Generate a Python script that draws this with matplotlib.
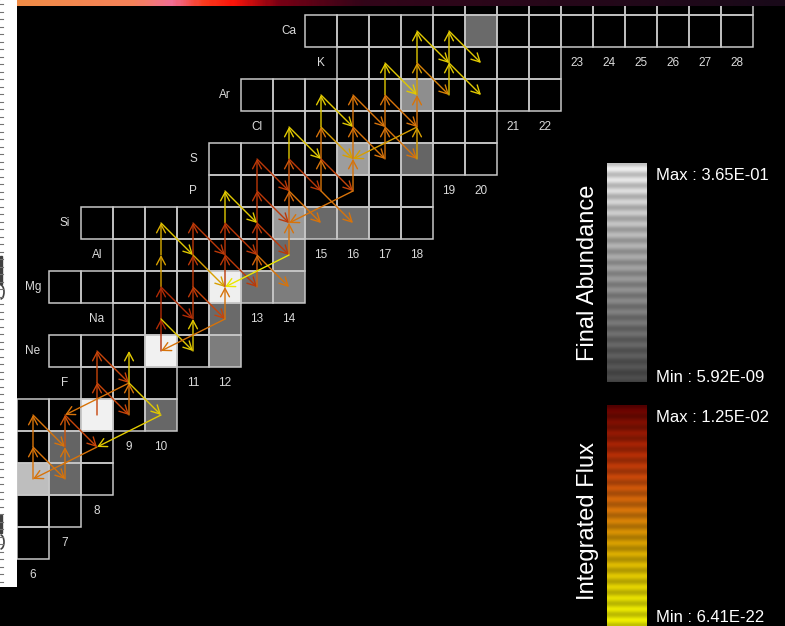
import numpy as np
import matplotlib
matplotlib.use("Agg")
import matplotlib.pyplot as plt
from matplotlib.patches import Rectangle, FancyArrowPatch, Arc
from matplotlib.colors import LinearSegmentedColormap, LogNorm

plt.rcParams['font.family'] = ['Liberation Sans', 'DejaVu Sans']

# ---- chart rows: proton number, symbol, neutron range present ----
elements = ['Be', 'B', 'C', 'N', 'O', 'F', 'Ne', 'Na', 'Mg', 'Al', 'Si', 'P',
            'S', 'Cl', 'Ar', 'K', 'Ca', 'Sc']
z_values = list(range(4, 22))
n_first = [6, 6, 6, 6, 6, 8, 7, 9, 7, 9, 8, 12, 12, 14, 13, 16, 15, 19]
n_last = [6, 7, 8, 8, 10, 10, 12, 12, 14, 14, 18, 18, 20, 20, 22, 22, 28, 28]

# ---- final abundances (mass fractions) ----
abund_nuclide = ['C12', 'C13', 'N14', 'O16', 'O18', 'Ne20', 'Ne22', 'Na23',
                 'Mg24', 'Mg25', 'Mg26', 'Al27', 'Si28', 'Si29', 'Si30',
                 'S32', 'S34', 'Ar36', 'Ca40']
abund_value = [1.4e-3, 1.2e-7, 9.0e-8, 3.0e-1, 1.2e-7, 3.0e-1, 1.3e-6, 1.6e-7,
               2.4e-1, 2.6e-7, 1.3e-6, 1.6e-7, 3.0e-5, 1.5e-7, 2.0e-7,
               4.0e-5, 1.0e-7, 8.0e-6, 1.8e-7]
abund_min, abund_max = 5.92e-9, 3.65e-1

# ---- integrated reaction flows (source -> product) ----
flow_src = ['C12', 'N13', 'N13', 'O14', 'C13', 'N14', 'O15', 'N15',
            'O16', 'F17', 'F17', 'Ne18', 'O17', 'F18', 'F18', 'F18', 'O18',
            'Ne20', 'Na21', 'Mg22', 'Al23', 'Na21', 'Mg22', 'Si24', 'Ne21',
            'Na22', 'Mg23', 'Al24', 'Mg23', 'Al24', 'Si25', 'Na23', 'Na23',
            'Mg24', 'Al25', 'Si26', 'Al25', 'Si26', 'Mg25', 'Al26', 'Si27',
            'P27', 'Al26', 'Si27', 'Al27', 'Al27', 'P28', 'P28', 'S29',
            'Si28', 'P29', 'S30', 'S30', 'Cl31', 'P29', 'P30', 'P30', 'S31',
            'Cl32', 'S31', 'P31', 'P31', 'Cl32', 'Ar33', 'S32', 'Cl33',
            'Ar34', 'Cl33', 'S33', 'Cl34', 'Ar35', 'K36', 'Ar35', 'Cl34',
            'Cl35', 'S34', 'Cl35', 'Ar36', 'K37', 'Ca38', 'K37', 'Ar37',
            'K38', 'Ca39', 'K38']
flow_dst = ['N13', 'O14', 'C13', 'N14', 'N14', 'O15', 'N15', 'C12',
            'F17', 'Ne18', 'O17', 'F18', 'F18', 'Ne19', 'O15', 'O18', 'N15',
            'Na21', 'Mg22', 'Al23', 'Si24', 'Ne21', 'Na22', 'Al24', 'Na22',
            'Mg23', 'Al24', 'Si25', 'Na23', 'Mg24', 'Al25', 'Ne20', 'Mg24',
            'Al25', 'Si26', 'P27', 'Mg25', 'Al26', 'Al26', 'Si27', 'P28',
            'Si27', 'Mg26', 'Al27', 'Si28', 'Mg24', 'Si28', 'S29', 'P29',
            'P29', 'S30', 'Cl31', 'P30', 'S31', 'Si29', 'S31', 'Si30', 'Cl32',
            'Ar33', 'P31', 'Si28', 'S32', 'S32', 'Cl33', 'Cl33', 'Ar34',
            'Cl34', 'S33', 'Cl34', 'Ar35', 'K36', 'Ar36', 'Cl35', 'S34',
            'S32', 'Cl35', 'Ar36', 'K37', 'Ca38', 'K38', 'Ar37', 'K38',
            'Ca39', 'K39', 'Ar38']
flow_value = [1e-11, 1e-11, 1e-11, 1e-11, 1e-11, 1e-9, 1e-8, 1e-11,
              1e-8, 1e-8, 1e-8, 1e-8, 1e-11, 1e-17, 1e-11, 1e-17, 1e-17,
              1e-6, 1e-6, 1e-14, 1e-15, 1e-17, 1e-6, 1e-17, 1e-17,
              1e-7, 1e-7, 1e-7, 1e-8, 1e-14, 1e-7, 1e-11, 1e-11,
              1e-7, 1e-7, 1e-17, 1e-7, 1e-7, 1e-10, 1e-7, 1e-7,
              1e-17, 1e-11, 1e-7, 1e-11, 2e-20, 1e-7, 1e-7, 1e-7,
              1e-10, 1e-9, 1e-17, 1e-7, 1e-17, 1e-11, 1e-11, 1e-11, 1e-11,
              1e-17, 1e-8, 1e-11, 1e-11, 1e-14, 1e-17, 1e-11, 1e-11,
              1e-11, 1e-11, 1e-11, 1e-11, 1e-17, 1e-17, 1e-11, 1e-11,
              1e-14, 1e-14, 1e-11, 1e-14, 1e-17, 1e-17, 1e-12, 1e-17,
              1e-17, 1e-17, 1e-17]
flux_min, flux_max = 6.41e-22, 1.25e-2

symbol_z = dict(zip(elements, z_values))


def nz(name):
    sym = ''.join(c for c in name if c.isalpha())
    a = int(''.join(c for c in name if c.isdigit()))
    z = symbol_z[sym]
    return a - z, z


# ---- colour scales ----
flux_stops = [(0.00, (240, 240, 0)), (0.10, (232, 228, 0)),
              (0.22, (225, 200, 0)), (0.37, (215, 160, 0)),
              (0.53, (215, 115, 10)), (0.68, (200, 70, 10)),
              (0.80, (175, 40, 5)), (1.00, (100, 0, 0))]
flux_cmap = LinearSegmentedColormap.from_list(
    'flux', [(p, tuple(v / 255 for v in c)) for p, c in flux_stops])
gray_cmap = LinearSegmentedColormap.from_list(
    'abund', [(0, (75 / 255,) * 3), (1, (242 / 255,) * 3)])
flux_norm = LogNorm(flux_min, flux_max)
abund_norm = LogNorm(abund_min, abund_max)

W, H = 785, 626
CELL = 32
fig = plt.figure(figsize=(W / 100, H / 100), dpi=100)
fig.patch.set_facecolor('black')


def frac_rect(x0, y0, w, h):
    return [x0 / W, 1 - (y0 + h) / H, w / W, h / H]


ax = fig.add_axes([0, 0, 1, 1])
ax.set_xlim(5.5 - 17 / CELL, 5.5 + (W - 17) / CELL)
ax.set_ylim(20.5 - (H - 15) / CELL, 20.5 + 15 / CELL)
ax.axis('off')

grid_col = (0.78, 0.78, 0.78)
label_col = (0.86, 0.86, 0.86)
abund = {nz(k): v for k, v in zip(abund_nuclide, abund_value)}

for z, sym, n0, n1 in zip(z_values, elements, n_first, n_last):
    for n in range(n0, n1 + 1):
        if (n, z) in abund:
            fc = gray_cmap(abund_norm(abund[(n, z)]))
        else:
            fc = 'black'
        ax.add_patch(Rectangle((n - 0.5, z - 0.5), 1, 1, facecolor=fc,
                               edgecolor='none', zorder=1))
        ax.add_patch(Rectangle((n - 0.5, z - 0.5), 1, 1, facecolor='none',
                               edgecolor=grid_col, lw=1.1, zorder=2))
    # symbol sits one column left of the row; rows whose label column lies
    # under the margin or above the top edge carry no label
    if n0 - 1 >= 6 and z <= 20:
        ax.text(n0 - 1, z, sym, color=label_col, fontsize=8.5,
                ha='center', va='center', zorder=3)

for n in range(6, 29):
    zb = min(z for z, a, b in zip(z_values, n_first, n_last) if a <= n <= b)
    ax.text(n, zb - 1, str(n), color=label_col, fontsize=8.5,
            ha='center', va='center', zorder=3)

for s, d, v in zip(flow_src, flow_dst, flow_value):
    p0, p1 = nz(s), nz(d)
    arr = FancyArrowPatch(p0, p1, arrowstyle='->,head_length=0.6,head_width=0.32',
                          mutation_scale=10, shrinkA=0, shrinkB=0, lw=1.0,
                          color=flux_cmap(flux_norm(v)), zorder=4)
    ax.add_patch(arr)


# ---- banded colour bars ----
def banded(cmap, rows, period):
    t = np.linspace(1, 0, rows)
    rgb = cmap(t)[:, :3]
    phase = (np.arange(rows) % period) / period
    shade = 0.80 + 0.20 * np.sin(np.pi * phase) ** 2
    img = np.clip(rgb * shade[:, None], 0, 1)
    return np.repeat(img[:, None, :], 4, axis=1)


cb1 = fig.add_axes(frac_rect(607, 163, 40, 219))
cb1.imshow(banded(gray_cmap, 219, 11), aspect='auto', interpolation='bilinear')
cb1.axis('off')
cb2 = fig.add_axes(frac_rect(607, 405, 40, 221))
cb2.imshow(banded(flux_cmap, 221, 11), aspect='auto', interpolation='bilinear')
cb2.axis('off')

fig.text(656 / W, 1 - 175 / H, 'Max : %.2E' % abund_max, color='white',
         fontsize=12, va='center', ha='left')
fig.text(656 / W, 1 - 377 / H, 'Min : %.2E' % abund_min, color='white',
         fontsize=12, va='center', ha='left')
fig.text(656 / W, 1 - 417 / H, 'Max : %.2E' % flux_max, color='white',
         fontsize=12, va='center', ha='left')
fig.text(656 / W, 1 - 618 / H, 'Min : %.2E' % flux_min, color='white',
         fontsize=12, va='center', ha='left')
fig.text(588 / W, 1 - 273 / H, 'Final Abundance', color='white', fontsize=17,
         rotation=90, va='center', ha='center')
fig.text(588 / W, 1 - 521 / H, 'Integrated Flux', color='white', fontsize=17,
         rotation=90, va='center', ha='center')

# ---- window frame: top colour strip and left white margin ----
top = fig.add_axes(frac_rect(17, 0, W - 17, 6))
xs = np.linspace(0, 1, 300)
strip_stops = [(0.00, (240, 140, 70)), (0.15, (245, 130, 90)),
               (0.20, (240, 110, 150)), (0.24, (250, 60, 30)),
               (0.28, (250, 20, 10)), (0.34, (120, 0, 20)),
               (0.45, (50, 5, 25)), (1.00, (25, 10, 25))]
strip_cmap = LinearSegmentedColormap.from_list(
    'strip', [(p, tuple(v / 255 for v in c)) for p, c in strip_stops])
top.imshow(strip_cmap(xs)[None, :, :3], aspect='auto')
top.axis('off')

side = fig.add_axes(frac_rect(0, 0, 17, 587))
side.set_xlim(0, 17)
side.set_ylim(587, 0)
side.add_patch(Rectangle((0, 0), 17, 587, color='white'))
for y in np.arange(4, 585, 7.5):
    side.plot([0, 2.5], [y, y], color=(0.45, 0.45, 0.45), lw=0.8)
mark = (0.25, 0.25, 0.25)
side.add_patch(Rectangle((0, 256), 2.2, 28, color=mark))
side.add_patch(Arc((0.5, 292), 7, 14, theta1=-90, theta2=90, color=mark, lw=1.2))
side.add_patch(Rectangle((0, 515), 2.2, 18, color=mark))
side.add_patch(Arc((0.5, 542), 7, 14, theta1=-90, theta2=90, color=mark, lw=1.2))
side.axis('off')

fig.savefig('out.png', dpi=100, facecolor='black')
